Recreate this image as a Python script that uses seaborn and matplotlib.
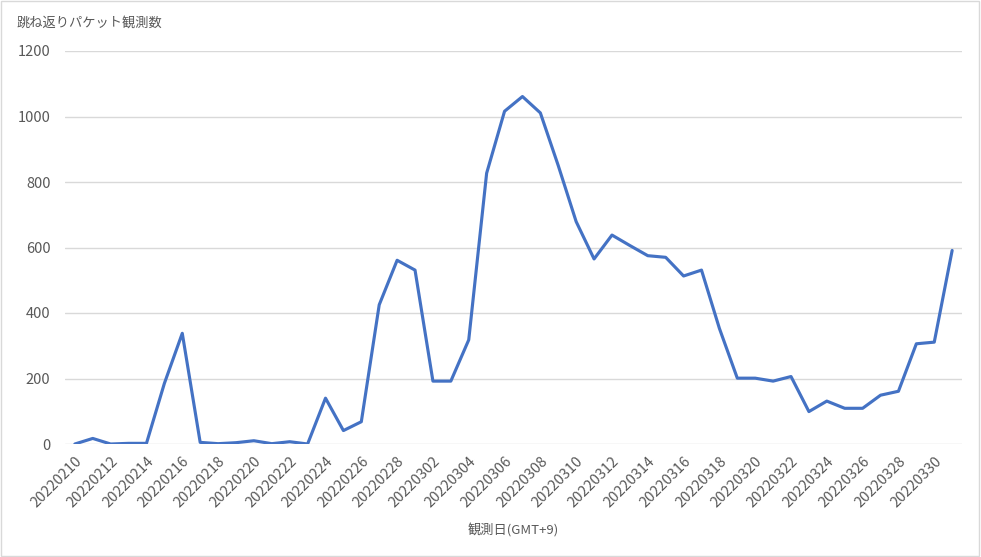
import numpy as np
import pandas as pd
import matplotlib
matplotlib.use("Agg")
import matplotlib.pyplot as plt
import seaborn as sns
from matplotlib.patches import Rectangle

# daily counts, 2022-02-10 .. 2022-03-31
dates = pd.date_range("2022-02-10", "2022-03-31", freq="D").strftime("%Y%m%d").tolist()
counts = [
    0, 17, 0, 2, 2, 185, 338, 5, 1, 4,
    10, 1, 7, 0, 140, 41, 68, 425, 561, 531,
    192, 192, 318, 827, 1016, 1061, 1011, 850, 679, 565,
    638, 606, 575, 570, 513, 531, 353, 201, 201, 192,
    206, 99, 131, 109, 109, 149, 161, 306, 311, 591,
]
y_ticks = [0, 200, 400, 600, 800, 1000, 1200]

title_text = "跳ね返りパケット観測数"
xlabel_text = "観測日(GMT+9)"

df = pd.DataFrame({"pos": np.arange(len(dates)), "date": dates, "count": counts})

sns.set_theme(style="white")
plt.rcParams["font.family"] = ["Noto Sans CJK JP", "DejaVu Sans"]

text_color = "#595959"
grid_color = "#D9D9D9"
line_color = "#4472C4"

fig = plt.figure(figsize=(9.81, 5.57), dpi=100)
ax = fig.add_axes([65 / 981, 1 - 444 / 557, (962 - 65) / 981, (444 - 51) / 557])

sns.lineplot(data=df, x="pos", y="count", color=line_color, linewidth=2.25, ax=ax)

ax.set_ylim(0, 1200)
ax.set_xlim(-0.55, len(dates) - 0.45)
ax.set_yticks(y_ticks)
ax.set_yticklabels([str(v) for v in y_ticks])
tick_pos = df["pos"][::2]
ax.set_xticks(tick_pos)
ax.set_xticklabels(df["date"][::2], rotation=45, ha="right", rotation_mode="anchor")

ax.tick_params(axis="y", length=0, pad=10.5, labelsize=10.5, labelcolor=text_color)
ax.tick_params(axis="x", length=0, pad=7.5, labelsize=10.5, labelcolor=text_color)

ax.grid(axis="y", color=grid_color, linewidth=1)
ax.grid(axis="x", visible=False)
ax.set_axisbelow(True)
for s in ax.spines.values():
    s.set_visible(False)

ax.set_ylabel("")
ax.set_xlabel(xlabel_text, fontsize=9.5, color=text_color, labelpad=9)

fig.text(17 / 981, 1 - 23 / 557, title_text, fontsize=9.5, color=text_color,
         ha="left", va="center")

# chart frame
fig.patches.append(Rectangle((0.001, 0.001), 0.997, 0.997, transform=fig.transFigure,
                             fill=False, edgecolor="#D9D9D9", linewidth=1))

fig.savefig("out.png", dpi=100)
